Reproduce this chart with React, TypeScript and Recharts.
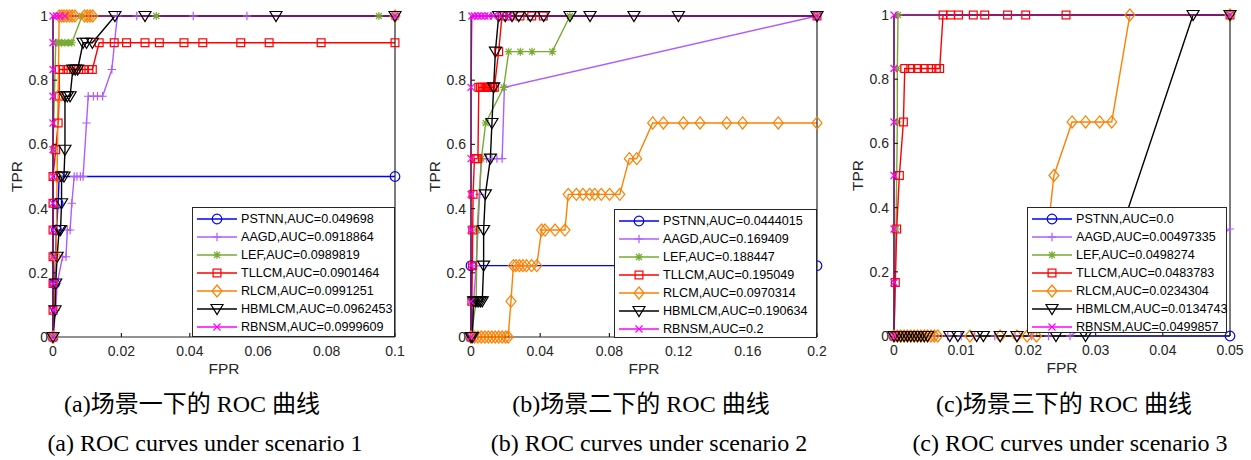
import { LineChart, Line, XAxis, YAxis, Legend } from "recharts";

type Pt = [number, number];

const METHODS = ["PSTNN", "AAGD", "LEF", "TLLCM", "RLCM", "HBMLCM", "RBNSM"];

// scenario 1 (FPR, TPR)
const A_PSTNN: Pt[] = [[0, 0], [0.0005, 0.1667], [0.001, 0.3333], [0.0015, 0.4167], [0.0018, 0.5], [0.1, 0.5]];
const A_AAGD: Pt[] = [[0, 0], [0.0008, 0.0833], [0.0012, 0.1667], [0.0028, 0.25], [0.0038, 0.25], [0.0042, 0.3333], [0.005, 0.3333], [0.0055, 0.4167], [0.0062, 0.5], [0.007, 0.5], [0.008, 0.5], [0.0088, 0.5], [0.0098, 0.6667], [0.0103, 0.75], [0.0118, 0.75], [0.013, 0.75], [0.0145, 0.75], [0.0172, 0.8333], [0.0188, 1], [0.0245, 1], [0.041, 1], [0.0567, 1], [0.1, 1]];
const A_LEF: Pt[] = [[0, 0], [0, 0.25], [0, 0.5833], [0.0008, 0.9167], [0.0015, 0.9167], [0.0025, 0.9167], [0.0035, 0.9167], [0.0045, 0.9167], [0.0055, 0.9167], [0.0085, 1], [0.0302, 1], [0.0953, 1], [0.1, 1]];
const A_TLLCM: Pt[] = [[0, 0], [0, 0.0833], [0, 0.1667], [0, 0.25], [0, 0.3333], [0, 0.4167], [0, 0.5], [0.0008, 0.5833], [0.0015, 0.6667], [0.0018, 0.75], [0.0018, 0.8333], [0.003, 0.8333], [0.0045, 0.8333], [0.006, 0.8333], [0.0075, 0.8333], [0.009, 0.8333], [0.0105, 0.8333], [0.0115, 0.8333], [0.0135, 0.9167], [0.0179, 0.9167], [0.0215, 0.9167], [0.0269, 0.9167], [0.0311, 0.9167], [0.0383, 0.9167], [0.0438, 0.9167], [0.0549, 0.9167], [0.0632, 0.9167], [0.0784, 0.9167], [0.1, 0.9167]];
const A_RLCM: Pt[] = [[0, 0], [0.0009, 0.25], [0.0012, 0.5], [0.0015, 0.75], [0.0018, 1], [0.0025, 1], [0.0032, 1], [0.004, 1], [0.0048, 1], [0.0056, 1], [0.0064, 1], [0.0092, 1], [0.01, 1], [0.0108, 1], [0.0116, 1], [0.1, 1]];
const A_HBMLCM: Pt[] = [[0, 0], [0.0006, 0.0833], [0.0008, 0.1667], [0.0012, 0.25], [0.0018, 0.3333], [0.0022, 0.3333], [0.0025, 0.4167], [0.0025, 0.5], [0.0032, 0.5], [0.0035, 0.5833], [0.0035, 0.75], [0.0042, 0.75], [0.005, 0.75], [0.0058, 0.8333], [0.0065, 0.8333], [0.0072, 0.8333], [0.0088, 0.9167], [0.0098, 0.9167], [0.0115, 0.9167], [0.0181, 1], [0.0269, 1], [0.0652, 1], [0.1, 1]];
const A_RBNSM: Pt[] = [[0, 0], [0, 0.0833], [0, 0.1667], [0, 0.25], [0, 0.3333], [0, 0.4167], [0, 0.5], [0, 0.5833], [0, 0.6667], [0, 0.75], [0, 0.8333], [0, 0.9167], [0, 1], [0.001, 1], [0.002, 1], [0.0035, 1], [0.1, 1]];

// scenario 2
const B_PSTNN: Pt[] = [[0, 0], [0, 0.2222], [0.2, 0.2222]];
const B_AAGD: Pt[] = [[0, 0], [0.0015, 0.1111], [0.003, 0.2222], [0.004, 0.3333], [0.005, 0.4444], [0.006, 0.5556], [0.009, 0.5556], [0.012, 0.5556], [0.015, 0.5556], [0.018, 0.5556], [0.0193, 0.7778], [0.2, 1]];
const B_LEF: Pt[] = [[0, 0], [0.003, 0.1111], [0.0035, 0.3333], [0.006, 0.5556], [0.0085, 0.6667], [0.0189, 0.7778], [0.0218, 0.8889], [0.0285, 0.8889], [0.0353, 0.8889], [0.047, 0.8889], [0.0572, 1], [0.2, 1]];
const B_TLLCM: Pt[] = [[0, 0], [0.0005, 0.1111], [0.0008, 0.2222], [0.001, 0.3333], [0.0012, 0.4444], [0.002, 0.5556], [0.003, 0.5556], [0.004, 0.5556], [0.0045, 0.7778], [0.0055, 0.7778], [0.0065, 0.7778], [0.0075, 0.7778], [0.0085, 0.7778], [0.0095, 0.7778], [0.0105, 0.7778], [0.0115, 0.7778], [0.0125, 0.7778], [0.0135, 0.7778], [0.016, 0.8889], [0.0179, 1], [0.0225, 1], [0.0283, 1], [0.0351, 1], [0.0418, 1], [0.2, 1]];
const B_RLCM: Pt[] = [[0, 0], [0.002, 0], [0.004, 0], [0.006, 0], [0.008, 0], [0.01, 0], [0.012, 0], [0.014, 0], [0.016, 0], [0.018, 0], [0.02, 0], [0.0215, 0], [0.0231, 0.1111], [0.0245, 0.2222], [0.026, 0.2222], [0.028, 0.2222], [0.03, 0.2222], [0.032, 0.2222], [0.035, 0.2222], [0.038, 0.2222], [0.0408, 0.3333], [0.0428, 0.3333], [0.0486, 0.3333], [0.0543, 0.3333], [0.0562, 0.4444], [0.0609, 0.4444], [0.0647, 0.4444], [0.0686, 0.4444], [0.0715, 0.4444], [0.0753, 0.4444], [0.0801, 0.4444], [0.086, 0.4444], [0.0915, 0.5556], [0.0958, 0.5556], [0.105, 0.6667], [0.1112, 0.6667], [0.1228, 0.6667], [0.1324, 0.6667], [0.1478, 0.6667], [0.157, 0.6667], [0.1776, 0.6667], [0.2, 0.6667]];
const B_HBMLCM: Pt[] = [[0, 0], [0.0008, 0], [0.0015, 0.1111], [0.0025, 0.1111], [0.0035, 0.1111], [0.0045, 0.1111], [0.0055, 0.1111], [0.0065, 0.1111], [0.0073, 0.2222], [0.0073, 0.3333], [0.0083, 0.4444], [0.0112, 0.5556], [0.0121, 0.6667], [0.0131, 0.7778], [0.0141, 0.8889], [0.016, 1], [0.0198, 1], [0.0237, 1], [0.0276, 1], [0.0343, 1], [0.042, 1], [0.0572, 1], [0.0688, 1], [0.0942, 1], [0.1199, 1], [0.2, 1]];
const B_RBNSM: Pt[] = [[0, 0], [0, 0.1111], [0, 0.2222], [0, 0.3333], [0, 0.4444], [0, 0.5556], [0, 0.7778], [0.0005, 1], [0.002, 1], [0.004, 1], [0.006, 1], [0.008, 1], [0.01, 1], [0.013, 1], [0.017, 1], [0.022, 1], [0.2, 1]];

// scenario 3
const C_PSTNN: Pt[] = [[0, 0], [0.05, 0]];
const C_AAGD: Pt[] = [[0, 0], [0.002, 0], [0.004, 0], [0.006, 0], [0.008, 0], [0.01, 0], [0.012, 0], [0.015, 0], [0.018, 0], [0.0205, 0], [0.023, 0], [0.0262, 0], [0.05, 0.3333]];
const C_LEF: Pt[] = [[0, 0], [0.0003, 0.3333], [0.0005, 0.6667], [0.0005, 0.8333], [0.0006, 1], [0.05, 1]];
const C_TLLCM: Pt[] = [[0, 0], [0.0002, 0.1667], [0.0004, 0.3333], [0.0008, 0.5], [0.0014, 0.6667], [0.0016, 0.8333], [0.0025, 0.8333], [0.0035, 0.8333], [0.0045, 0.8333], [0.0055, 0.8333], [0.0063, 0.8333], [0.0068, 0.8333], [0.0073, 1], [0.0084, 1], [0.0096, 1], [0.0118, 1], [0.0135, 1], [0.0169, 1], [0.0196, 1], [0.0256, 1], [0.05, 1]];
const C_RLCM: Pt[] = [[0, 0], [0.0005, 0], [0.001, 0], [0.0015, 0], [0.002, 0], [0.0025, 0], [0.003, 0], [0.0035, 0], [0.004, 0], [0.0045, 0], [0.005, 0], [0.0055, 0], [0.006, 0], [0.0065, 0], [0.0113, 0], [0.0158, 0], [0.0183, 0], [0.0198, 0], [0.0212, 0], [0.0238, 0.5], [0.0265, 0.6667], [0.0285, 0.6667], [0.0306, 0.6667], [0.0324, 0.6667], [0.0351, 1], [0.05, 1]];
const C_HBMLCM: Pt[] = [[0, 0], [0.0005, 0], [0.001, 0], [0.0015, 0], [0.002, 0], [0.0025, 0], [0.003, 0], [0.0035, 0], [0.004, 0], [0.0045, 0], [0.005, 0], [0.0083, 0], [0.0095, 0], [0.0123, 0], [0.0133, 0], [0.0158, 0], [0.0183, 0], [0.0241, 0], [0.0285, 0], [0.0445, 1], [0.05, 1]];
const C_RBNSM: Pt[] = [[0, 0], [0, 0.1667], [0, 0.3333], [0, 0.5], [0, 0.6667], [0, 0.8333], [0, 1], [0.05, 1]];

const A_AUC = ["0.049698", "0.0918864", "0.0989819", "0.0901464", "0.0991251", "0.0962453", "0.0999609"];
const B_AUC = ["0.0444015", "0.169409", "0.188447", "0.195049", "0.0970314", "0.190634", "0.2"];
const C_AUC = ["0.0", "0.00497335", "0.0498274", "0.0483783", "0.0234304", "0.0134743", "0.0499857"];

const A_XTICKS = [0, 0.02, 0.04, 0.06, 0.08, 0.1];
const B_XTICKS = [0, 0.04, 0.08, 0.12, 0.16, 0.2];
const C_XTICKS = [0, 0.01, 0.02, 0.03, 0.04, 0.05];
const Y_TICKS = [0, 0.2, 0.4, 0.6, 0.8, 1];

const CAPTIONS_ZH = ["(a)场景一下的 ROC 曲线", "(b)场景二下的 ROC 曲线", "(c)场景三下的 ROC 曲线"];
const CAPTIONS_EN = ["(a) ROC curves under scenario 1", "(b) ROC curves under scenario 2", "(c) ROC curves under scenario 3"];

const COLORS = ["#0000ff", "#b05cff", "#77ac30", "#ff0000", "#ff8000", "#000000", "#ff00ff"];
const SHAPES = ["o", "+", "*", "s", "d", "v", "x"];
const AXIS = "#262626";
const SANS = '"Liberation Sans", Arial, Helvetica, sans-serif';
const SERIF = '"Times New Roman", "Liberation Serif", "Noto Sans CJK SC", serif';
const H = 380;

function Marker({ kind, x, y, color }: { kind: string; x: number; y: number; color: string }) {
  const p = { stroke: color, strokeWidth: 1.2, fill: "none" };
  switch (kind) {
    case "o":
      return <circle cx={x} cy={y} r={4.8} {...p} />;
    case "+":
      return <path d={`M${x - 4.2},${y}H${x + 4.2}M${x},${y - 4.2}V${y + 4.2}`} {...p} />;
    case "*":
      return (
        <path
          d={`M${x - 4},${y}H${x + 4}M${x},${y - 4}V${y + 4}M${x - 3},${y - 3}L${x + 3},${y + 3}M${x - 3},${y + 3}L${x + 3},${y - 3}`}
          {...p}
        />
      );
    case "s":
      return <rect x={x - 3.9} y={y - 3.9} width={7.8} height={7.8} {...p} />;
    case "d":
      return <path d={`M${x},${y - 6}L${x + 5},${y}L${x},${y + 6}L${x - 5},${y}Z`} {...p} />;
    case "v":
      return <path d={`M${x - 6},${y - 4.5}L${x + 6},${y - 4.5}L${x},${y + 5.5}Z`} {...p} />;
    default:
      return <path d={`M${x - 3.5},${y - 3.5}L${x + 3.5},${y + 3.5}M${x - 3.5},${y + 3.5}L${x + 3.5},${y - 3.5}`} {...p} />;
  }
}

function LegendBox({ auc }: { auc: string[] }) {
  return (
    <div
      style={{
        width: "100%",
        height: "100%",
        boxSizing: "border-box",
        border: `1px solid ${AXIS}`,
        background: "#fff",
        paddingTop: 2,
        fontFamily: SANS,
        fontSize: 12.6,
        color: "#000",
      }}
    >
      {METHODS.map((m, i) => (
        <div key={m} style={{ display: "flex", alignItems: "center", height: 18 }}>
          <svg width={48} height={18} style={{ flex: "none" }}>
            <line x1={4} x2={44} y1={9} y2={9} stroke={COLORS[i]} strokeWidth={1.4} />
            <Marker kind={SHAPES[i]} x={24} y={9} color={COLORS[i]} />
          </svg>
          <span style={{ whiteSpace: "nowrap" }}>
            {m},AUC={auc[i]}
          </span>
        </div>
      ))}
    </div>
  );
}

type PanelProps = {
  series: Pt[][];
  auc: string[];
  xTicks: number[];
  left: number;
  width: number;
  plot: { l: number; r: number; t: number; b: number };
  legend: { left: number; top: number; width: number; height: number };
};

function RocPanel({ series, auc, xTicks, left, width, plot, legend }: PanelProps) {
  const xMax = xTicks[xTicks.length - 1];
  const margin = { left: plot.l - 1, right: width - plot.r - 1, top: plot.t - 1, bottom: H - plot.b - 1 };
  const tickStyle = { fontSize: 14, fill: AXIS, fontFamily: SANS };
  return (
    <div style={{ position: "absolute", left, top: 0 }}>
      <LineChart width={width} height={H} margin={margin}>
        <XAxis
          xAxisId="b"
          type="number"
          dataKey="x"
          domain={[0, xMax]}
          ticks={xTicks}
          interval={0}
          height={1}
          tickSize={-4}
          tickMargin={13}
          stroke={AXIS}
          strokeWidth={1.2}
          fontSize={14}
          tick={tickStyle}
          label={{ value: "FPR", position: "bottom", offset: 25, fill: AXIS, fontSize: 15.5, fontFamily: SANS }}
        />
        <XAxis
          xAxisId="t"
          orientation="top"
          type="number"
          domain={[0, xMax]}
          ticks={xTicks}
          interval={0}
          height={1}
          tickSize={-4}
          tick={false}
          stroke={AXIS}
          strokeWidth={1.2}
        />
        <YAxis
          yAxisId="l"
          type="number"
          domain={[0, 1]}
          ticks={Y_TICKS}
          interval={0}
          width={1}
          tickSize={-4}
          tickMargin={9}
          stroke={AXIS}
          strokeWidth={1.2}
          fontSize={14}
          tick={tickStyle}
          label={{
            content: () => {
              const cx = plot.l - 37;
              const cy = (plot.t + plot.b) / 2;
              return (
                <text
                  x={cx}
                  y={cy}
                  transform={`rotate(-90 ${cx} ${cy})`}
                  textAnchor="middle"
                  dominantBaseline="central"
                  fill={AXIS}
                  fontSize={15.5}
                  fontFamily={SANS}
                >
                  TPR
                </text>
              );
            },
          }}
        />
        <YAxis
          yAxisId="r"
          orientation="right"
          type="number"
          domain={[0, 1]}
          ticks={Y_TICKS}
          interval={0}
          width={1}
          tickSize={-4}
          tick={false}
          stroke={AXIS}
          strokeWidth={1.2}
        />
        {series.map((pts, i) => (
          <Line
            key={METHODS[i]}
            xAxisId="b"
            yAxisId="l"
            name={METHODS[i]}
            data={pts.map(([x, y]) => ({ x, y }))}
            dataKey="y"
            type="linear"
            stroke={COLORS[i]}
            strokeWidth={1.4}
            isAnimationActive={false}
            activeDot={false}
            dot={(d: any) => (
              <g key={`${METHODS[i]}-${d.index}`}>
                <Marker kind={SHAPES[i]} x={d.cx} y={d.cy} color={COLORS[i]} />
              </g>
            )}
          />
        ))}
        <Legend
          layout="vertical"
          align="center"
          verticalAlign="middle"
          wrapperStyle={{ left: legend.left, top: legend.top, width: legend.width, height: legend.height }}
          content={() => <LegendBox auc={auc} />}
        />
      </LineChart>
    </div>
  );
}

function Caption({ cx, top, text }: { cx: number; top: number; text: string }) {
  return (
    <div
      style={{
        position: "absolute",
        left: cx - 220,
        width: 440,
        top,
        textAlign: "center",
        fontFamily: SERIF,
        fontSize: 24,
        lineHeight: "28px",
        whiteSpace: "nowrap",
        color: "#000",
      }}
    >
      {text}
    </div>
  );
}

export default function App() {
  return (
    <div style={{ position: "absolute", left: 0, top: 0, width: 1251, height: 460, background: "#fff", overflow: "hidden" }}>
      <RocPanel
        series={[A_PSTNN, A_AAGD, A_LEF, A_TLLCM, A_RLCM, A_HBMLCM, A_RBNSM]}
        auc={A_AUC}
        xTicks={A_XTICKS}
        left={0}
        width={420}
        plot={{ l: 53, r: 395, t: 16, b: 337 }}
        legend={{ left: 192, top: 207, width: 203, height: 130 }}
      />
      <RocPanel
        series={[B_PSTNN, B_AAGD, B_LEF, B_TLLCM, B_RLCM, B_HBMLCM, B_RBNSM]}
        auc={B_AUC}
        xTicks={B_XTICKS}
        left={410}
        width={420}
        plot={{ l: 61, r: 407, t: 16, b: 337 }}
        legend={{ left: 204, top: 209, width: 203, height: 129 }}
      />
      <RocPanel
        series={[C_PSTNN, C_AAGD, C_LEF, C_TLLCM, C_RLCM, C_HBMLCM, C_RBNSM]}
        auc={C_AUC}
        xTicks={C_XTICKS}
        left={830}
        width={421}
        plot={{ l: 64, r: 400, t: 15, b: 336 }}
        legend={{ left: 197, top: 207, width: 200, height: 126 }}
      />
      {CAPTIONS_ZH.map((t, i) => (
        <Caption key={t} cx={[192, 641, 1064][i]} top={390} text={t} />
      ))}
      {CAPTIONS_EN.map((t, i) => (
        <Caption key={t} cx={[205, 649, 1070][i]} top={429} text={t} />
      ))}
    </div>
  );
}
